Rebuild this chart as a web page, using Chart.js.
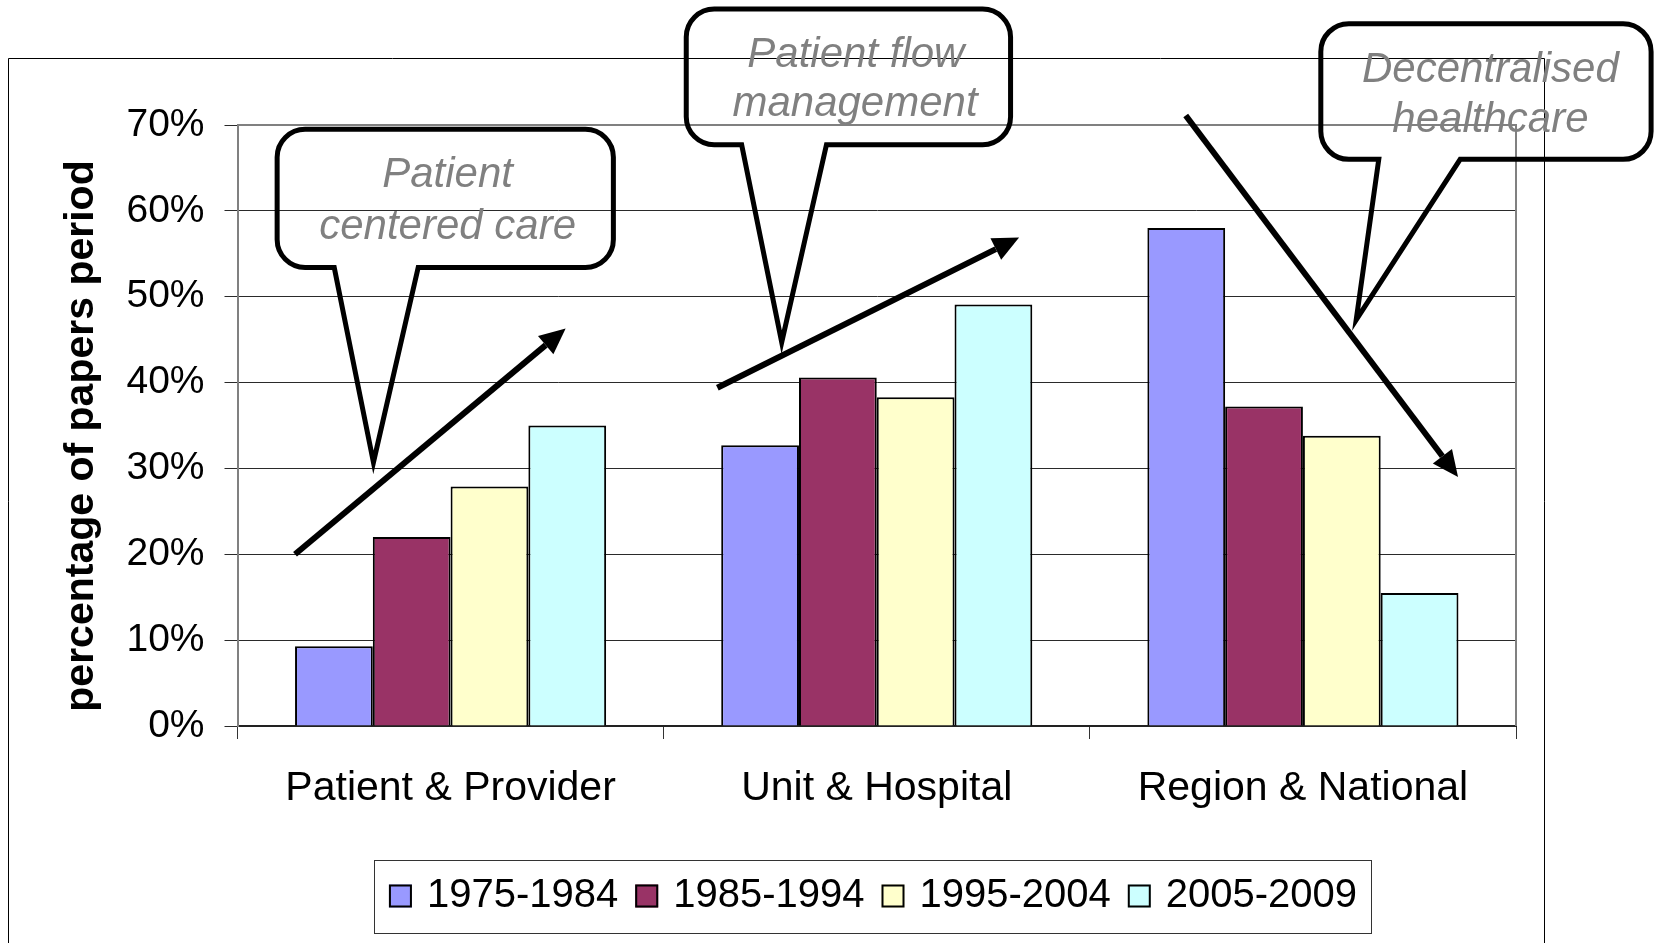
<!DOCTYPE html>
<html>
<head>
<meta charset="utf-8">
<script src="https://cdn.jsdelivr.net/npm/chart.js@4.4.0/dist/chart.umd.min.js"></script>
<style>
  html, body { margin: 0; padding: 0; background: #fff; }
  #wrap { width: 1654px; height: 943px; position: relative; }
</style>
</head>
<body>
<div id="wrap"><canvas id="grafico"></canvas></div>
<script>
// datos
const categorias = ['Patient & Provider', 'Unit & Hospital', 'Region & National'];
const periodos = ['1975-1984', '1985-1994', '1995-2004', '2005-2009'];
const serie1975 = [9.3, 32.7, 58.0];
const serie1985 = [22.0, 40.6, 37.2];
const serie1995 = [27.9, 38.3, 33.8];
const serie2005 = [35.0, 49.1, 15.5];
const etiquetasY = ['0%', '10%', '20%', '30%', '40%', '50%', '60%', '70%'];
const tituloY = 'percentage of papers period';
const colores = ['#9999FF', '#993366', '#FFFFCC', '#CCFFFF'];

// anotaciones (x = indice de categoria, y = porcentaje)
const flechas = [
  [[-0.365, 20.0], [0.270, 46.3]],
  [[0.626, 39.4], [1.334, 56.9]],
  [[1.725, 71.1], [2.364, 29.0]]
];
const globos = [
  { textos: ['Patient', 'centered care'], caja: [-0.407, 0.382, 69.5, 53.4],
    cola: [-0.273, -0.076, -0.181, 30.7], lineas: [[-0.007, 64.1], [-0.007, 58.1]] },
  { textos: ['Patient flow', 'management'], caja: [0.553, 1.314, 83.5, 67.7],
    cola: [0.683, 0.882, 0.777, 44.7], lineas: [[0.951, 78.1], [0.949, 72.4]] },
  { textos: ['Decentralised', 'healthcare'], caja: [2.042, 2.817, 81.8, 66.0],
    cola: [2.178, 2.369, 2.125, 47.3], lineas: [[2.44, 76.4], [2.44, 70.5]] }
];

const fuente = '"Liberation Sans", Arial, sans-serif';
Chart.defaults.font.family = fuente;

function px(chart, i) {
  const xs = chart.scales.x;
  const a = xs.getPixelForValue(0), b = xs.getPixelForValue(1);
  return a + i * (b - a);
}
function py(chart, v) {
  return chart.scales.y.getPixelForValue(v);
}

function flecha(ctx, x1, y1, x2, y2) {
  const ang = Math.atan2(y2 - y1, x2 - x1);
  const L = 26, W = 12;
  const bx = x2 - L * Math.cos(ang), by = y2 - L * Math.sin(ang);
  ctx.strokeStyle = '#000';
  ctx.lineWidth = 6;
  ctx.lineCap = 'butt';
  ctx.beginPath();
  ctx.moveTo(x1, y1);
  ctx.lineTo(bx, by);
  ctx.stroke();
  ctx.fillStyle = '#000';
  ctx.beginPath();
  ctx.moveTo(x2, y2);
  ctx.lineTo(bx + W * Math.sin(ang), by - W * Math.cos(ang));
  ctx.lineTo(bx - W * Math.sin(ang), by + W * Math.cos(ang));
  ctx.closePath();
  ctx.fill();
}

function globo(ctx, x1, x2, y1, y2, bl, br, tx, ty) {
  const r = 28;
  ctx.beginPath();
  ctx.moveTo(x1 + r, y1);
  ctx.lineTo(x2 - r, y1);
  ctx.arcTo(x2, y1, x2, y1 + r, r);
  ctx.lineTo(x2, y2 - r);
  ctx.arcTo(x2, y2, x2 - r, y2, r);
  ctx.lineTo(br, y2);
  ctx.lineTo(tx, ty);
  ctx.lineTo(bl, y2);
  ctx.lineTo(x1 + r, y2);
  ctx.arcTo(x1, y2, x1, y2 - r, r);
  ctx.lineTo(x1, y1 + r);
  ctx.arcTo(x1, y1, x1 + r, y1, r);
  ctx.closePath();
  ctx.strokeStyle = '#000';
  ctx.lineWidth = 5;
  ctx.lineJoin = 'miter';
  ctx.stroke();
}

const extras = {
  id: 'extras',
  beforeDraw(chart) {
    const ctx = chart.ctx;
    ctx.save();
    // marco exterior
    ctx.strokeStyle = '#000';
    ctx.lineWidth = 1;
    ctx.beginPath();
    ctx.moveTo(8.5, 960);
    ctx.lineTo(8.5, 58.5);
    ctx.lineTo(1544.5, 58.5);
    ctx.lineTo(1544.5, 960);
    ctx.stroke();
    ctx.restore();
  },
  afterDatasetsDraw(chart) {
    const ctx = chart.ctx, a = chart.chartArea;
    ctx.save();
    ctx.strokeStyle = '#808080';
    ctx.lineWidth = 2;
    ctx.beginPath();
    ctx.moveTo(a.left, a.top);
    ctx.lineTo(a.right, a.top);
    ctx.lineTo(a.right, a.bottom);
    ctx.stroke();
    ctx.restore();
  },
  afterDraw(chart) {
    const ctx = chart.ctx;
    ctx.save();

    // titulo del eje y
    ctx.save();
    ctx.translate(82, 436);
    ctx.rotate(-Math.PI / 2);
    ctx.font = 'bold 41px ' + fuente;
    ctx.fillStyle = '#000';
    ctx.textAlign = 'center';
    ctx.textBaseline = 'middle';
    ctx.fillText(tituloY, 0, 0);
    ctx.restore();

    // leyenda
    ctx.font = '40px ' + fuente;
    const caja = 23, sep = 15, hueco = 17;
    let total = 0;
    periodos.forEach((p, i) => {
      total += caja + sep + ctx.measureText(p).width + (i < periodos.length - 1 ? hueco : 0);
    });
    const lx1 = 374.5, lx2 = 1371.5, ly1 = 860.5, ly2 = 933.5;
    ctx.strokeStyle = '#333';
    ctx.lineWidth = 1;
    ctx.strokeRect(lx1, ly1, lx2 - lx1, ly2 - ly1);
    let x = (lx1 + lx2) / 2 - total / 2;
    const cy = 896;
    ctx.textBaseline = 'middle';
    ctx.textAlign = 'left';
    periodos.forEach((p, i) => {
      ctx.fillStyle = colores[i];
      ctx.fillRect(x, cy - caja / 2, caja, caja);
      ctx.strokeStyle = '#000';
      ctx.lineWidth = 2;
      ctx.strokeRect(x + 1, cy - caja / 2 + 1, caja - 2, caja - 2);
      x += caja + sep;
      ctx.fillStyle = '#000';
      ctx.fillText(p, x, cy);
      x += ctx.measureText(p).width + hueco;
    });

    // flechas
    flechas.forEach(f => {
      flecha(ctx, px(chart, f[0][0]), py(chart, f[0][1]), px(chart, f[1][0]), py(chart, f[1][1]));
    });

    // globos de texto
    globos.forEach(g => {
      globo(ctx, px(chart, g.caja[0]), px(chart, g.caja[1]), py(chart, g.caja[2]), py(chart, g.caja[3]),
        px(chart, g.cola[0]), px(chart, g.cola[1]), px(chart, g.cola[2]), py(chart, g.cola[3]));
      ctx.font = 'italic 42px ' + fuente;
      ctx.fillStyle = '#808080';
      ctx.textAlign = 'center';
      ctx.textBaseline = 'middle';
      g.textos.forEach((t, k) => {
        ctx.fillText(t, px(chart, g.lineas[k][0]), py(chart, g.lineas[k][1]));
      });
    });
    ctx.restore();
  }
};

const series = [serie1975, serie1985, serie1995, serie2005];

new Chart(document.getElementById('grafico'), {
  type: 'bar',
  data: {
    labels: categorias,
    datasets: series.map((s, i) => ({
      label: periodos[i],
      data: s,
      backgroundColor: colores[i],
      borderColor: '#000',
      borderWidth: 2,
      categoryPercentage: 0.73,
      barPercentage: 1
    }))
  },
  options: {
    responsive: true,
    maintainAspectRatio: false,
    animation: false,
    layout: { padding: { top: 125, right: 138, left: 0, bottom: 0 } },
    plugins: {
      legend: { display: false },
      tooltip: { enabled: false }
    },
    scales: {
      x: {
        grid: { drawOnChartArea: false, drawTicks: true, tickLength: 13, color: '#333' },
        border: { color: '#222', width: 2 },
        ticks: { font: { size: 41 }, color: '#000', padding: 25 },
        afterFit: s => { s.height = 217; }
      },
      y: {
        min: 0,
        max: 70,
        ticks: {
          stepSize: 10,
          font: { size: 39 },
          color: '#000',
          padding: 20,
          callback: (v, i) => etiquetasY[i]
        },
        grid: { color: '#2a2a2a', tickLength: 13 },
        border: { color: '#808080', width: 2 },
        afterFit: s => { s.width = 237.5; }
      }
    }
  },
  plugins: [extras]
});
</script>
</body>
</html>
